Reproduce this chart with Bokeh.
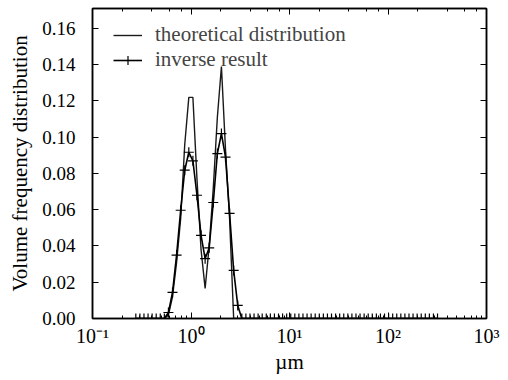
from bokeh.plotting import figure
from bokeh.models import (LogAxis, LinearAxis, FixedTicker, Range1d, Legend,
                          LegendItem, CustomJSTickFormatter, PrintfTickFormatter)
from bokeh.embed import file_html
from bokeh.resources import INLINE

# particle diameter bins (µm), geometric grid
diameter_um = [
    0.2753, 0.3028, 0.3331, 0.3664, 0.4030, 0.4433, 0.4876, 0.5364,
    0.5900, 0.6490, 0.7139, 0.7853, 0.8638, 0.9502, 1.0452, 1.1497,
    1.2647, 1.3912, 1.5303, 1.6833, 1.8516, 2.0368, 2.2405, 2.4645,
    2.7110, 2.9821, 3.2803, 3.6083, 3.9691, 4.3660, 4.8026, 5.2829,
    5.8112, 6.3923, 7.0315, 7.7347, 8.5082, 9.3590, 10.295, 11.325,
    12.457, 13.703, 15.073, 16.580, 18.238, 20.062, 22.068, 24.275,
    26.703, 29.373, 32.310, 35.541, 39.095, 43.005, 47.305, 52.036,
    57.240, 62.964, 69.260, 76.186, 83.805, 92.185, 101.40, 111.54,
    122.70, 134.97, 148.46, 163.31, 179.64, 197.61, 217.37, 239.10,
    263.01, 289.31, 318.25,
]

# non-zero part of each distribution, starting at 0.59 µm
theoretical_peak = [0.002, 0.012, 0.031, 0.055, 0.096, 0.122, 0.122, 0.077,
                    0.038, 0.0166, 0.040, 0.072, 0.111, 0.139, 0.093, 0.055, 0.0]
inverse_peak = [0.0033, 0.0144, 0.035, 0.0597, 0.0818, 0.0917, 0.087, 0.068,
                0.0459, 0.033, 0.039, 0.064, 0.091, 0.102, 0.089, 0.058, 0.0265,
                0.0072]

lead = 8  # bins below 0.59 µm
theoretical = [0.0] * lead + theoretical_peak + [0.0] * (len(diameter_um) - lead - len(theoretical_peak))
inverse = [0.0] * lead + inverse_peak + [0.0] * (len(diameter_um) - lead - len(inverse_peak))

y_ticks = [0.00, 0.02, 0.04, 0.06, 0.08, 0.10, 0.12, 0.14, 0.16]

FONT = "Liberation Serif"

p = figure(width=508, height=380, x_axis_type="log",
           x_range=Range1d(0.1, 1000), y_range=Range1d(0, 0.171),
           output_backend="svg", toolbar_location=None,
           min_border_left=92, min_border_right=22,
           min_border_top=8, min_border_bottom=62)

p.xgrid.visible = False
p.ygrid.visible = False
p.outline_line_color = "black"
p.outline_line_width = 1.5
p.background_fill_color = "white"
p.border_fill_color = "white"

r_theo = p.line(diameter_um, theoretical, line_color="#1a1a1a", line_width=1.4)
r_inv = p.line(diameter_um, inverse, line_color="black", line_width=1.6)
r_pts = p.scatter(diameter_um, inverse, marker="cross", size=10,
                  line_color="black", line_width=1.2)

sup_code = """
const e = Math.round(Math.log10(tick));
const sup = {"-": "\u207b", "0": "\u2070", "1": "\u00b9", "2": "\u00b2", "3": "\u00b3"};
return "10" + String(e).split("").map(c => sup[c]).join("");
"""
blank = CustomJSTickFormatter(code="return '';")

xa = p.xaxis[0]
xa.formatter = CustomJSTickFormatter(code=sup_code)
xa.axis_label = "µm"

ya = p.yaxis[0]
ya.ticker = FixedTicker(ticks=y_ticks)
ya.formatter = PrintfTickFormatter(format="%.2f")
ya.axis_label = "Volume frequency distribution"

top = LogAxis(formatter=blank, major_label_text_font_size="1px", major_label_standoff=0)
right = LinearAxis(ticker=FixedTicker(ticks=y_ticks), formatter=blank,
                   major_label_text_font_size="1px", major_label_standoff=0)
p.add_layout(top, "above")
p.add_layout(right, "right")

for ax in (xa, ya, top, right):
    ax.axis_line_color = "black"
    ax.axis_line_width = 1.5
    ax.major_tick_in = 6
    ax.major_tick_out = 0
    ax.minor_tick_in = 3
    ax.minor_tick_out = 0
    ax.major_tick_line_color = "black"
    ax.minor_tick_line_color = "black"
    ax.major_label_text_font = FONT
    ax.major_label_text_color = "black"
    ax.axis_label_text_font = FONT
    ax.axis_label_text_font_style = "normal"
    ax.axis_label_text_color = "black"

for ax in (ya, right):
    ax.minor_tick_line_color = None

xa.major_label_text_font_size = "20px"
xa.major_label_standoff = 6
xa.axis_label_text_font_size = "21px"
xa.axis_label_standoff = 0
ya.major_label_text_font_size = "19px"
ya.major_label_standoff = 17
ya.axis_label_text_font_size = "21px"
ya.axis_label_standoff = 7

legend = Legend(items=[
    LegendItem(label="theoretical distribution", renderers=[r_theo]),
    LegendItem(label="inverse result", renderers=[r_inv, r_pts]),
], location=(21, 246), padding=0, margin=0, spacing=0,
    label_height=22, glyph_height=22, glyph_width=29, label_standoff=13,
    label_text_font=FONT, label_text_font_size="21px",
    border_line_alpha=0, background_fill_alpha=0)
p.add_layout(legend)

open("out.html", "w").write(file_html(p, INLINE))
